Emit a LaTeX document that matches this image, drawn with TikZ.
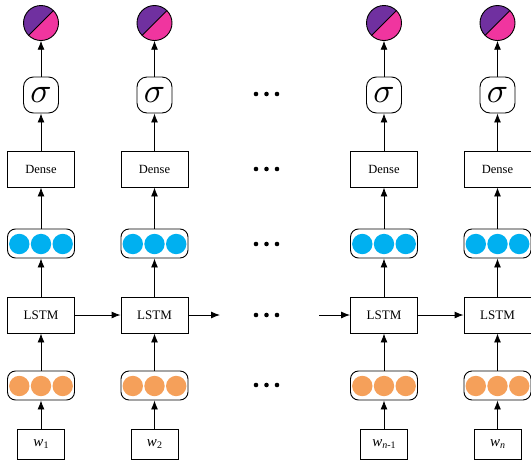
\documentclass[tikz,border=0pt]{standalone}
\usepackage{graphicx}
\usepackage{fontspec}
\setmainfont{Liberation Serif}
\usetikzlibrary{arrows.meta,calc}
\definecolor{cpurple}{HTML}{7030A0}
\definecolor{cpink}{HTML}{F0359F}
\definecolor{cblue}{HTML}{00B0F0}
\definecolor{corange}{HTML}{F5A05A}
\tikzset{
  lw/.style={line width=0.9pt},
  boxnode/.style={lw, draw, minimum width=67pt, minimum height=36pt, inner sep=0pt},
  signode/.style={lw, draw, rounded corners=10pt, minimum width=35pt, minimum height=36pt, inner sep=0pt},
  capnode/.style={lw, draw, rounded corners=8pt, minimum width=67pt, minimum height=29pt, inner sep=0pt},
  wnode/.style={lw, draw, minimum width=47pt, minimum height=30pt, inner sep=0pt},
  outnode/.style={circle, minimum size=35pt, inner sep=0pt},
  arr/.style={lw, -{Latex[length=9pt,width=7pt]}},
  dotnode/.style={circle, fill=black, minimum size=4.6pt, inner sep=0pt},
}
\newcommand{\bigsig}{\scalebox{3.5}{$\sigma$}}
\begin{document}
\begin{tikzpicture}[x=1pt,y=-1pt]
\useasboundingbox (0,0) rectangle (531,464);
\foreach \x/\n/\lab in {41/a/{\textit{w}\raisebox{-0.35ex}{\fontsize{10}{10}\selectfont 1}},
                       154.5/b/{\textit{w}\raisebox{-0.35ex}{\fontsize{10}{10}\selectfont 2}},
                       384/c/{\textit{w}\raisebox{-0.35ex}{\fontsize{10}{10}\selectfont\textit{n}-1}},
                       497.5/d/{\textit{w}\raisebox{-0.35ex}{\fontsize{10}{10}\selectfont\textit{n}}}}{
  % capsule circles
  \foreach \dx in {-21.7,0,21.7}{
    \fill[corange] (\x+\dx,386) circle (10.2);
    \fill[cblue] (\x+\dx,244) circle (10.2);
  }
  \node[wnode, font=\fontsize{15}{15}\selectfont] (w\n) at (\x,444) {\lab};
  \node[capnode] (e\n) at (\x,385.5) {};
  \node[boxnode, font=\fontsize{13}{13}\selectfont] (l\n) at (\x,315) {LSTM};
  \node[capnode] (h\n) at (\x,243.5) {};
  \node[boxnode, font=\fontsize{12.5}{12.5}\selectfont] (d\n) at (\x,169) {Dense};
  \node[signode, font=\fontsize{10}{10}\selectfont] (s\n) at (\x,95) {\bigsig};
  \node[outnode] (o\n) at (\x,23) {};
  \begin{scope}
    \clip (o\n.center) circle (17.5);
    \fill[cpurple] ($(o\n.center)+(-20,20)$) -- ($(o\n.center)+(20,-20)$) -- ($(o\n.center)+(-20,-20)$) -- cycle;
    \fill[cpink] ($(o\n.center)+(-20,20)$) -- ($(o\n.center)+(20,-20)$) -- ($(o\n.center)+(20,20)$) -- cycle;
  \end{scope}
  \draw[lw] ($(o\n.center)+(-12.4,12.4)$) -- ($(o\n.center)+(12.4,-12.4)$);
  \draw[lw] (o\n.center) circle (17.5);
  \draw[arr] (w\n) -- (e\n);
  \draw[arr] (e\n) -- (l\n);
  \draw[arr] (l\n) -- (h\n);
  \draw[arr] (h\n) -- (d\n);
  \draw[arr] (d\n) -- (s\n);
  \draw[arr] (s\n) -- (o\n);
}
\coordinate (r1) at (220,315);
\coordinate (r2) at (319,315);
\draw[arr] (la) -- (lb);
\draw[arr] (lb) -- (r1);
\draw[arr] (r2) -- (lc);
\draw[arr] (lc) -- (ld);
\foreach \y/\k in {94/1,169/2,244/3,315/4,385/5}{
  \node[dotnode] (p\k a) at (256,\y) {};
  \node[dotnode] (p\k b) at (266.5,\y) {};
  \node[dotnode] (p\k c) at (277,\y) {};
}
\end{tikzpicture}
\end{document}
